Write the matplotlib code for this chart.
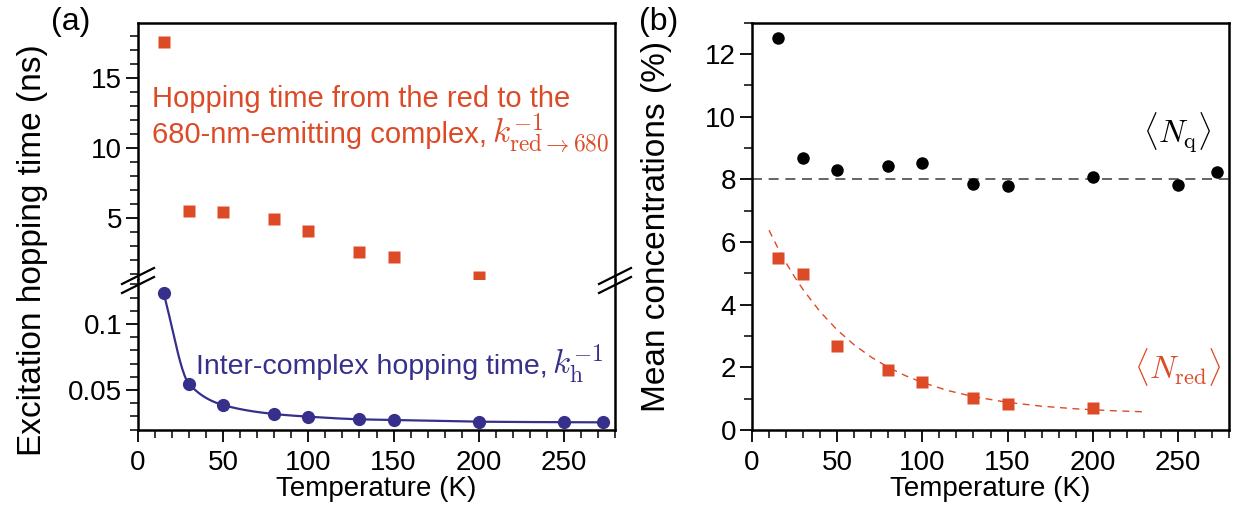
import numpy as np
import matplotlib
matplotlib.use("Agg")
import matplotlib.pyplot as plt
from matplotlib.ticker import MultipleLocator, FuncFormatter
from matplotlib.lines import Line2D

plt.rcParams['font.family'] = ['Liberation Sans', 'DejaVu Sans']
plt.rcParams['mathtext.fontset'] = 'cm'

# ---------------- data ----------------
temps_all = [15, 30, 50, 80, 100, 130, 150, 200, 250, 273]
temps_red = [15, 30, 50, 80, 100, 130, 150, 200]

# (a) hopping times (ns)
t_red_680 = [17.6, 5.52, 5.45, 4.9, 4.1, 2.6, 2.24, 0.81]
t_hop = [0.1233, 0.0545, 0.0386, 0.0318, 0.0298, 0.0278, 0.0273, 0.026, 0.0256, 0.0255]

# (b) mean concentrations (%)
n_q = [12.51, 8.69, 8.29, 8.42, 8.52, 7.84, 7.79, 8.07, 7.83, 8.22]
n_q_mean = 8.0
n_red = [5.5, 4.99, 2.68, 1.91, 1.52, 1.03, 0.83, 0.70]
# dashed fit curve for <N_red>
fit_T = [10, 15, 20, 25, 30, 40, 50, 60, 70, 80, 90, 100, 115, 130, 150, 170, 190, 210, 230]
fit_N = [6.375, 5.83, 5.335, 4.886, 4.479, 3.774, 3.194, 2.717, 2.324, 2.001, 1.735,
         1.516, 1.259, 1.066, 0.883, 0.760, 0.676, 0.619, 0.581]

RED = '#dc4b26'
BLUE = '#362f8b'

W, H = 1235, 509


def pchip(x, y, xn):
    x = np.asarray(x, float); y = np.asarray(y, float)
    h = np.diff(x); d = np.diff(y) / h
    m = np.zeros_like(y)
    m[0] = d[0]; m[-1] = d[-1]
    for k in range(1, len(x) - 1):
        if d[k - 1] * d[k] > 0:
            w1 = 2 * h[k] + h[k - 1]; w2 = h[k] + 2 * h[k - 1]
            m[k] = (w1 + w2) / (w1 / d[k - 1] + w2 / d[k])
    idx = np.clip(np.searchsorted(x, xn) - 1, 0, len(x) - 2)
    t = (xn - x[idx]) / h[idx]
    h00 = 2 * t**3 - 3 * t**2 + 1; h10 = t**3 - 2 * t**2 + t
    h01 = -2 * t**3 + 3 * t**2; h11 = t**3 - t**2
    return h00 * y[idx] + h10 * h[idx] * m[idx] + h01 * y[idx + 1] + h11 * h[idx] * m[idx + 1]


def fx(px):
    return px / W


def fy(py):
    return 1 - py / H


fig = plt.figure(figsize=(W / 100, H / 100), dpi=100)
renderer = fig.canvas.get_renderer()

ax_l, ax_r = 138, 615
top, split, bot = 22.7, 280, 430
ax_up = fig.add_axes([fx(ax_l), fy(split), fx(ax_r - ax_l), (split - top) / H])
ax_lo = fig.add_axes([fx(ax_l), fy(bot), fx(ax_r - ax_l), (bot - split) / H])
bl, br = 752, 1229
ax_b = fig.add_axes([fx(bl), fy(bot), fx(br - bl), (bot - top) / H])

SPW = 1.8
FS_TICK = 20
for ax in (ax_up, ax_lo, ax_b):
    for s in ax.spines.values():
        s.set_linewidth(SPW)
    ax.tick_params(which='major', direction='out', length=8.5, width=1.3,
                   labelsize=FS_TICK, right=False, top=False)
    ax.tick_params(which='minor', direction='out', length=5.5, width=1.1,
                   right=False, top=False)
    ax.tick_params(axis='x', which='major', pad=6)
    ax.tick_params(axis='y', which='major', pad=3)


def text_with_math(ax, x, y, plain, math, color, fs_plain=21, fs_math=24, gap=5):
    t = ax.text(x, y, plain, transform=ax.transAxes, color=color, fontsize=fs_plain,
                va='baseline', ha='left')
    bb = t.get_window_extent(renderer)
    xd = bb.x1 + gap
    xa = ax.transAxes.inverted().transform((xd, 0))[0]
    ax.text(xa, y, math, transform=ax.transAxes, color=color, fontsize=fs_math,
            va='baseline', ha='left')


# ---- (a) upper
ax_up.plot(temps_red, t_red_680, 's', color=RED, ms=9, mec='none', clip_on=False, zorder=3)
ax_up.set_xlim(0, 280)
ax_up.set_ylim(0.571, 18.95)
ax_up.spines['bottom'].set_visible(False)
ax_up.tick_params(axis='x', which='both', bottom=False, labelbottom=False)
ax_up.yaxis.set_minor_locator(MultipleLocator(1))
ax_up.set_yticks([5, 10, 15])
ax_up.text(0.029, 0.6735, 'Hopping time from the red to the', transform=ax_up.transAxes,
           color=RED, fontsize=21, va='baseline')
text_with_math(ax_up, 0.029, 0.531, '680-nm-emitting complex,',
               r'$k^{-1}_{\mathrm{red}\rightarrow 680}$', RED)

# ---- (a) lower
Tfine = np.linspace(temps_all[0], temps_all[-1], 400)
ax_lo.plot(Tfine, pchip(temps_all, t_hop, Tfine), '-', color=BLUE, lw=1.6)
ax_lo.plot(temps_all, t_hop, 'o', color=BLUE, ms=9.5, mec='none', clip_on=False, zorder=3)
ax_lo.set_xlim(0, 280)
ax_lo.set_ylim(0.0197, 0.1333)
ax_lo.spines['top'].set_visible(False)
ax_lo.set_yticks([0.05, 0.1])
ax_lo.yaxis.set_minor_locator(MultipleLocator(0.01))
ax_lo.yaxis.set_major_formatter(FuncFormatter(lambda v, p: '%g' % round(v, 3)))
ax_lo.xaxis.set_major_locator(MultipleLocator(50))
ax_lo.xaxis.set_minor_locator(MultipleLocator(10))
ax_lo.set_xlabel('Temperature (K)', fontsize=20, labelpad=0)
text_with_math(ax_lo, 0.121, 0.37, 'Inter-complex hopping time,',
               r'$k_{\mathrm{h}}^{-1}$', BLUE, fs_plain=20.5)

# break marks
for xc in (ax_l, ax_r):
    for yc in (276, 285):
        fig.add_artist(Line2D([fx(xc - 16), fx(xc + 16)], [fy(yc + 8), fy(yc - 8)],
                              color='black', lw=1.6, transform=fig.transFigure))

fig.text(fx(33), fy(250), 'Excitation hopping time (ns)', rotation=90, fontsize=24,
         ha='center', va='center')
fig.text(fx(51), fy(22), '(a)', fontsize=23, ha='left', va='center')

# ---- (b)
ax_b.axhline(n_q_mean, color='#4a4a4a', lw=1.2, dashes=(6, 4), zorder=1)
ax_b.plot(temps_all, n_q, 'o', color='black', ms=9, mec='none', clip_on=False, zorder=3)
ax_b.plot(fit_T, fit_N, '-', color=RED, lw=1.0, dashes=(5, 4), zorder=2)
ax_b.plot(temps_red, n_red, 's', color=RED, ms=9, mec='none', clip_on=False, zorder=3)
ax_b.set_xlim(0, 280)
ax_b.set_ylim(0, 13)
ax_b.yaxis.set_major_locator(MultipleLocator(2))
ax_b.yaxis.set_minor_locator(MultipleLocator(1))
ax_b.xaxis.set_major_locator(MultipleLocator(50))
ax_b.xaxis.set_minor_locator(MultipleLocator(10))
ax_b.set_xlabel('Temperature (K)', fontsize=20, labelpad=0)
ax_b.text(0.964, 9.5, r'$\langle N_{\mathrm{q}}\rangle$', transform=ax_b.get_yaxis_transform(),
          fontsize=23, ha='right', va='center')
ax_b.text(0.985, 2.0, r'$\langle N_{\mathrm{red}}\rangle$', transform=ax_b.get_yaxis_transform(),
          fontsize=23, ha='right', va='center', color=RED)

fig.text(fx(657), fy(226), 'Mean concentrations (%)', rotation=90, fontsize=24,
         ha='center', va='center')
fig.text(fx(639), fy(22), '(b)', fontsize=23, ha='left', va='center')

fig.savefig('out.png', dpi=100)
